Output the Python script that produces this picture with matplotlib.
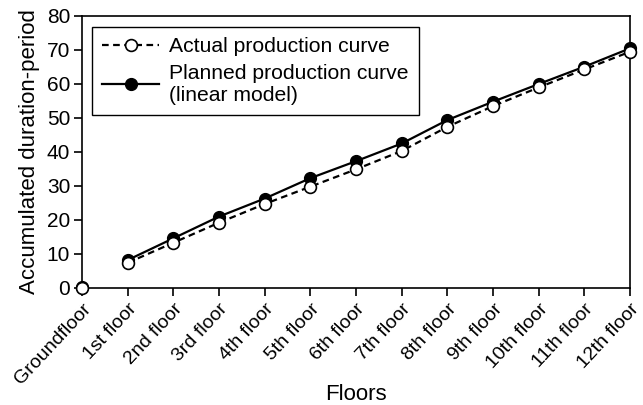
import matplotlib
matplotlib.use("Agg")
import matplotlib.pyplot as plt

plt.rcParams['font.family'] = ['Liberation Sans', 'DejaVu Sans']

floors = ["Groundfloor", "1st floor", "2nd floor", "3rd floor", "4th floor",
          "5th floor", "6th floor", "7th floor", "8th floor", "9th floor",
          "10th floor", "11th floor", "12th floor"]
actual = [0.0, 7.4, 13.3, 19.2, 24.7, 29.8, 34.9, 40.3, 47.4, 53.5, 59.0, 64.3, 69.5]
planned = [0.3, 8.2, 14.6, 21.0, 26.3, 32.3, 37.3, 42.5, 49.4, 54.8, 60.0, 65.1, 70.5]

x = list(range(len(floors)))

fig = plt.figure(figsize=(6.43, 4.05), dpi=100)
ax = fig.add_axes([0.1275, 0.289, 0.8525, 0.6715])

# planned: solid line with filled markers (line starts at 1st floor)
ax.plot(x[1:], planned[1:], '-', color='black', lw=1.6, zorder=2)
ax.plot(x, planned, 'o', color='black', ms=8.5, mec='black', zorder=3, clip_on=False)
# actual: dashed line with open markers
ax.plot(x[1:], actual[1:], '--', color='black', lw=1.6, dashes=(3, 2), zorder=4)
ax.plot(x, actual, 'o', color='black', ms=8.5, mfc='white', mec='black', mew=1.2,
        zorder=5, clip_on=False)

# legend proxies
h1, = ax.plot([], [], '--', color='black', lw=1.6, dashes=(3, 2), marker='o', ms=8.5,
              mfc='white', mec='black', mew=1.2)
h2, = ax.plot([], [], '-', color='black', lw=1.6, marker='o', ms=8.5)
leg = ax.legend([h1, h2], ["Actual production curve",
                           "Planned production curve\n(linear model)"],
                loc='upper left', bbox_to_anchor=(0.018, 0.96), borderaxespad=0,
                fontsize=15.2, handlelength=2.7, handletextpad=0.45,
                borderpad=0.5, labelspacing=0.35, fancybox=False, framealpha=1)
leg.get_frame().set_edgecolor('black')
leg.get_frame().set_linewidth(1.0)

ax.set_xlim(0, 12)
ax.set_ylim(0, 80)
ax.set_yticks(range(0, 81, 10))
ax.set_xticks(x)
ax.set_xticklabels(floors, rotation=47, ha='right', rotation_mode='anchor')
ax.tick_params(axis='y', labelsize=15, pad=2.5)
ax.tick_params(axis='x', labelsize=14, pad=3)
ax.tick_params(length=6, width=1.2, direction='out', colors='black')
for s in ax.spines.values():
    s.set_linewidth(1.2)

ax.set_xlabel("Floors", fontsize=16)
ax.xaxis.set_label_coords(0.5, -0.355)
ax.set_ylabel("Accumulated duration-period", fontsize=16, labelpad=5)

fig.savefig("out.png", dpi=100)
